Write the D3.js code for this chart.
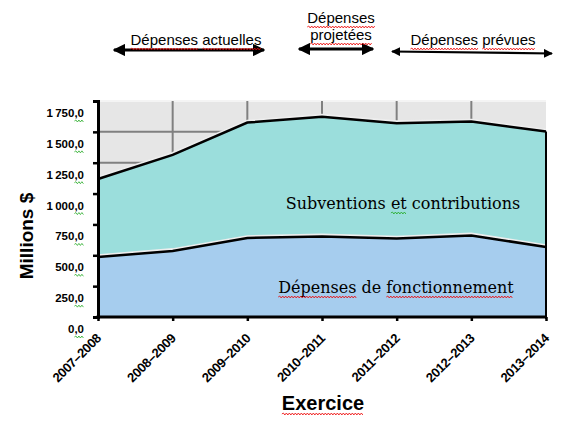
<!DOCTYPE html>
<html>
<head>
<meta charset="utf-8">
<script src="https://cdn.jsdelivr.net/npm/d3@7"></script>
<style>
  body { margin: 0; background: #fff; }
  svg { display: block; }
</style>
</head>
<body>
<div id="chart"></div>
<script>
let width = 573;
let height = 421;
let margin = ({top: 101, right: 27, bottom: 104, left: 98});

// data (millions $)
let categories = ["2007–2008", "2008–2009", "2009–2010", "2010–2011", "2011–2012", "2012–2013", "2013–2014"];
let fonctionnement = [486, 535, 640, 653, 635, 661, 567];
let subventions = [632, 779, 935, 970, 935, 922, 935];
let yTicks = [0, 250, 500, 750, 1000, 1250, 1500, 1750];
let yTickLabels = ["0,0", "250,0", "500,0", "750,0", "1\u2009000,0", "1\u2009250,0", "1\u2009500,0", "1\u2009750,0"];

let rows = categories.map((c, i) => ({cat: c, fonc: fonctionnement[i], subv: subventions[i]}));

let svg = d3.select("#chart")
    .append("svg")
    .attr("width", width)
    .attr("height", height);

let defs = svg.append("defs");
defs.append("marker")
    .attr("id", "head")
    .attr("viewBox", "0 0 10 10")
    .attr("refX", 9).attr("refY", 5)
    .attr("markerWidth", 4.2).attr("markerHeight", 4.2)
    .attr("markerUnits", "strokeWidth")
    .attr("orient", "auto-start-reverse")
    .append("path")
    .attr("d", "M0,0 L10,5 L0,10 Z")
    .attr("fill", "#000");

let xScale = d3.scalePoint()
    .domain(categories)
    .range([margin.left, width - margin.right]);

let yScale = d3.scaleLinear()
    .domain([0, 1750])
    .range([height - margin.bottom, margin.top]);

let x0 = margin.left, x1 = width - margin.right;
let yb = yScale(0), yt = yScale(1750);

// plot background
svg.append("rect")
    .attr("x", x0).attr("y", yt)
    .attr("width", x1 - x0).attr("height", yb - yt)
    .attr("fill", "#e6e6e6");
svg.append("line")
    .attr("x1", x0).attr("x2", x1)
    .attr("y1", yt).attr("y2", yt)
    .attr("stroke", "#f4f4f4").attr("stroke-width", 2);

// gridlines
svg.append("g").selectAll("line")
    .data(yTicks.slice(1, -1))
    .join("line")
    .attr("x1", x0).attr("x2", x1)
    .attr("y1", d => yScale(d)).attr("y2", d => yScale(d))
    .attr("stroke", "#808080").attr("stroke-width", 2);
svg.append("g").selectAll("line")
    .data(categories.slice(1, -1))
    .join("line")
    .attr("x1", d => xScale(d)).attr("x2", d => xScale(d))
    .attr("y1", yt).attr("y2", yb)
    .attr("stroke", "#808080").attr("stroke-width", 2);

// stacked areas
let stack = d3.stack().keys(["fonc", "subv"]);
let series = stack(rows);
let colors = {fonc: "#a6cdee", subv: "#9bdedc"};

let area = d3.area()
    .x(d => xScale(d.data.cat))
    .y0(d => yScale(d[0]))
    .y1(d => yScale(d[1]));

let line = d3.line()
    .x(d => xScale(d.data.cat))
    .y(d => yScale(d[1]));

svg.append("g").selectAll("path")
    .data(series)
    .join("path")
    .attr("d", area)
    .attr("fill", d => colors[d.key]);

// light halo above the boundary lines, then the black lines
svg.append("g").selectAll("path")
    .data(series)
    .join("path")
    .attr("d", line)
    .attr("transform", "translate(0,-1.6)")
    .attr("fill", "none")
    .attr("stroke", "#eeeeee")
    .attr("stroke-width", 2.5);
svg.append("g").selectAll("path")
    .data(series)
    .join("path")
    .attr("d", line)
    .attr("fill", "none")
    .attr("stroke", "#000")
    .attr("stroke-width", 2.5);

// right edge of the area
svg.append("line")
    .attr("x1", x1).attr("x2", x1)
    .attr("y1", yScale(series[1][6][1])).attr("y2", yb + 2)
    .attr("stroke", "#000").attr("stroke-width", 2);

// axes
let yAxis = d3.axisLeft(yScale).tickValues(yTicks).tickSize(5).tickFormat("");
svg.append("g")
    .attr("transform", "translate(" + x0 + ",0)")
    .call(yAxis)
    .call(g => g.select(".domain").attr("stroke-width", 3))
    .call(g => g.selectAll(".tick line").attr("stroke-width", 2.5));

let xAxis = d3.axisBottom(xScale).tickSize(4).tickSizeOuter(0).tickFormat("");
svg.append("g")
    .attr("transform", "translate(0," + yb + ")")
    .call(xAxis)
    .call(g => g.select(".domain").attr("stroke-width", 3).attr("d", "M" + (x0 - 1.5) + ",0H" + (x1 + 1)))
    .call(g => g.selectAll(".tick line").attr("stroke-width", 2.5));

// y tick labels (sit a bit below their ticks, as in the original)
let yLab = svg.append("g").selectAll("text")
    .data(yTicks)
    .join("text")
    .attr("x", 84)
    .attr("y", d => yScale(d) + 16)
    .attr("text-anchor", "end")
    .attr("font-family", "Liberation Sans, Arial, sans-serif")
    .attr("font-weight", "bold")
    .attr("font-size", 11.5)
    .attr("fill", "#000")
    .text((d, i) => yTickLabels[i]);

// x tick labels
svg.append("g").selectAll("text")
    .data(categories)
    .join("text")
    .attr("transform", d => "translate(" + (xScale(d) + 4) + "," + (yb + 22) + ") rotate(-45)")
    .attr("text-anchor", "end")
    .attr("font-family", "Liberation Sans, Arial, sans-serif")
    .attr("font-weight", "bold")
    .attr("font-size", 13)
    .attr("letter-spacing", -0.3)
    .text(d => d);

// axis titles
let yTitle = svg.append("text")
    .attr("transform", "translate(33,236) rotate(-90)")
    .attr("text-anchor", "middle")
    .attr("font-family", "Liberation Sans, Arial, sans-serif")
    .attr("font-weight", "bold")
    .attr("font-size", 19)
    .text("Millions $");

let xTitle = svg.append("text")
    .attr("x", 323).attr("y", 410)
    .attr("text-anchor", "middle")
    .attr("font-family", "Liberation Sans, Arial, sans-serif")
    .attr("font-weight", "bold")
    .attr("font-size", 20)
    .text("Exercice");

// series labels inside areas
let subvLab = svg.append("text")
    .attr("x", 403).attr("y", 209)
    .attr("text-anchor", "middle")
    .attr("font-family", "DejaVu Serif, serif")
    .attr("font-size", 16)
    .text("Subventions et contributions");

let foncLab = svg.append("text")
    .attr("x", 396).attr("y", 293)
    .attr("text-anchor", "middle")
    .attr("font-family", "DejaVu Serif, serif")
    .attr("font-size", 16)
    .text("Dépenses de fonctionnement");

// period annotations with double arrows
let periods = [
    {lines: ["Dépenses actuelles"], cx: 196, y: 45, ax1: 114, ay1: 50, ax2: 264, ay2: 50, w: 3},
    {lines: ["Dépenses", "projetées"], cx: 341, y: 23, ax1: 299, ay1: 49, ax2: 373, ay2: 49, w: 3},
    {lines: ["Dépenses prévues"], cx: 473, y: 45, ax1: 392, ay1: 51.5, ax2: 552, ay2: 53.5, w: 2.2}
];

let annTexts = [];
periods.forEach(p => {
    p.lines.forEach((t, i) => {
        let el = svg.append("text")
            .attr("x", p.cx).attr("y", p.y + i * 17)
            .attr("text-anchor", "middle")
            .attr("font-family", "Liberation Sans, Arial, sans-serif")
            .attr("font-size", 15)
            .text(t);
        annTexts.push(el);
    });
    svg.append("line")
        .attr("x1", p.ax1).attr("y1", p.ay1)
        .attr("x2", p.ax2).attr("y2", p.ay2)
        .attr("stroke", "#000")
        .attr("stroke-width", p.w)
        .attr("marker-start", "url(#head)")
        .attr("marker-end", "url(#head)");
});

// spell-check squiggles, as they appear in the screenshot
function squiggle(textSel, from, to, color, dy) {
    let node = textSel.node ? textSel.node() : textSel;
    let s = node.getStartPositionOfChar(from);
    let e = node.getEndPositionOfChar(to - 1);
    let y = s.y + (dy || 3);
    let d = "M" + s.x + "," + y;
    let up = true;
    for (let x = s.x + 1.5; x <= e.x; x += 1.5) {
        d += "L" + x + "," + (y + (up ? -1 : 1));
        up = !up;
    }
    svg.append("path")
        .attr("d", d)
        .attr("fill", "none")
        .attr("stroke", color)
        .attr("stroke-width", 0.8);
}

squiggle(annTexts[0], 0, 8, "#e00", 4);
squiggle(annTexts[0], 9, 18, "#e00", 4);
squiggle(annTexts[1], 0, 8, "#e00", 4);
squiggle(annTexts[2], 0, 9, "#e00", 4);
squiggle(annTexts[3], 0, 8, "#e00", 4);
squiggle(annTexts[3], 9, 16, "#e00", 4);
squiggle(xTitle, 0, 8, "#e00", 4);
squiggle(subvLab, 12, 14, "#2a2", 4);
squiggle(foncLab, 0, 8, "#e00", 4);
squiggle(foncLab, 12, 26, "#e00", 4);
yLab.each(function(d, i) {
    let n = yTickLabels[i].length;
    squiggle(this, n - 2, n, "#2a2", 4);
});
</script>
</body>
</html>
